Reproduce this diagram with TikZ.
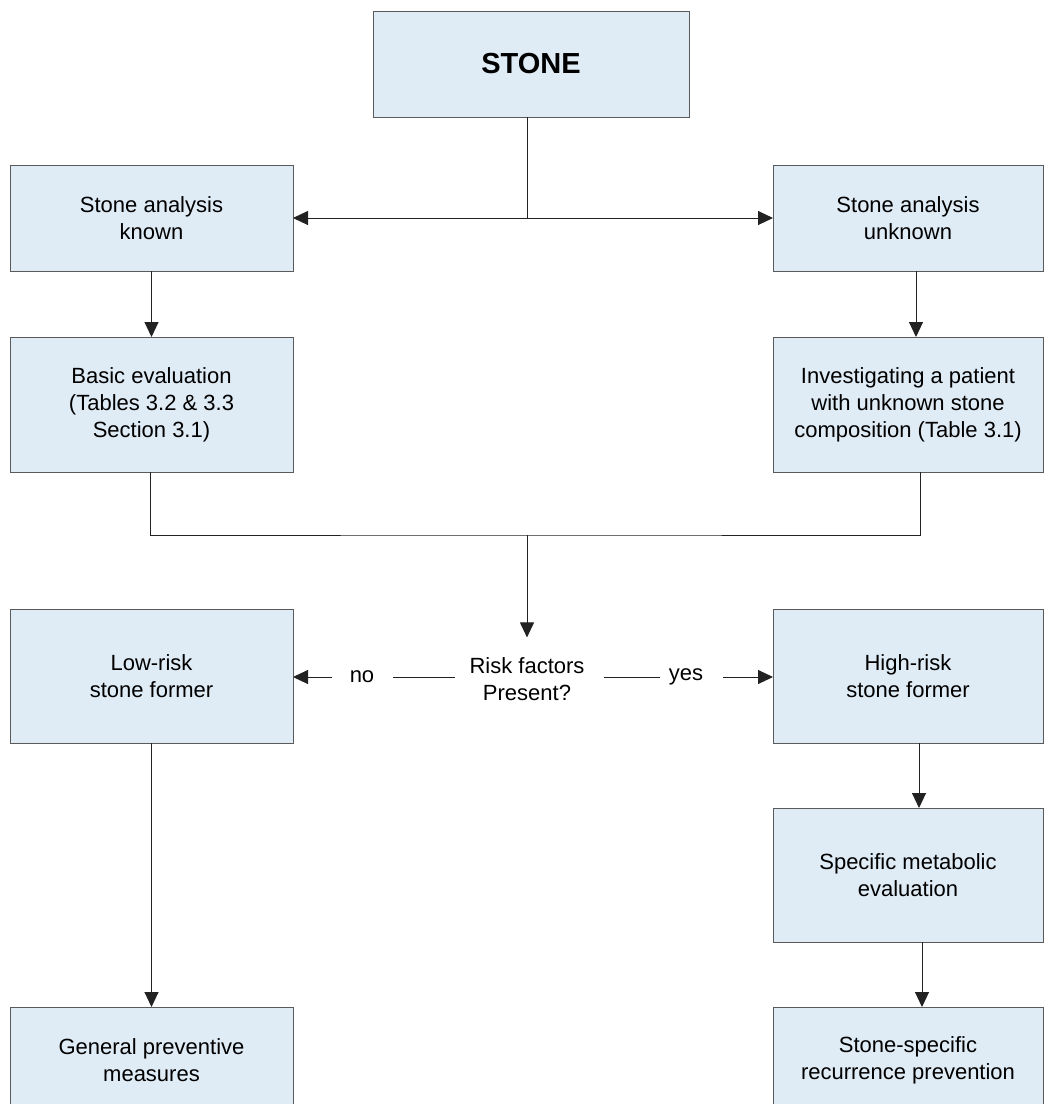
\documentclass[tikz,border=0pt]{standalone}
\usepackage{fontspec}
\setmainfont{Liberation Sans}
\usetikzlibrary{arrows.meta,calc}
\definecolor{boxblue}{HTML}{DFEBF5}
\definecolor{boxline}{HTML}{5A5A5A}
\definecolor{conn}{HTML}{222222}
\tikzset{
  box/.style={draw=boxline, fill=boxblue, line width=1pt, align=center,
    inner sep=0pt, outer sep=0pt, anchor=center,
    font=\fontsize{22}{27}\selectfont},
  lbox/.style={box, minimum width=283pt},
  rbox/.style={box, minimum width=270pt},
  lbl/.style={inner sep=0pt, outer sep=0pt, align=center,
    font=\fontsize{22}{27}\selectfont},
  conline/.style={draw=conn, line width=1pt},
  arr/.style={conline, -{Triangle[length=15pt,width=14pt]}}
}
\begin{document}
\begin{tikzpicture}[x=1pt,y=-1pt]
\useasboundingbox (0,0) rectangle (1044,1104);
\clip (0,0) rectangle (1044,1104);
\fill[white] (0,0) rectangle (1044,1104);

% nodes
\node[box, minimum width=316pt, minimum height=106pt,
      font=\fontsize{29}{34}\selectfont\bfseries] (stone) at (531,64) {STONE};
\node[lbox, minimum height=106pt] (known) at (151.5,218) {Stone analysis\\known};
\node[rbox, minimum height=106pt] (unknown) at (908,218) {Stone analysis\\unknown};
\node[lbox, minimum height=135pt] (basic) at (151.5,404.5) {Basic evaluation\\(Tables 3.2 \& 3.3\\Section 3.1)};
\node[rbox, minimum height=135pt] (invest) at (908,404.5) {Investigating a patient\\with unknown stone\\composition (Table 3.1)};
\node[lbox, minimum height=134pt] (low) at (151.5,676) {Low-risk\\stone former};
\node[rbox, minimum height=134pt] (high) at (908,676) {High-risk\\stone former};
\node[rbox, minimum height=134pt] (specific) at (908,875) {Specific metabolic\\evaluation};
\node[lbox, minimum height=106pt] (general) at (151.5,1060) {General preventive\\measures};
\node[rbox, minimum height=106pt] (stonespec) at (908,1060) {Stone-specific\\recurrence prevention};

\node[lbl] (risk) at (527,679) {Risk factors\\Present?};
\node[lbl] (no) at (362,677) {no};
\node[lbl] (yes) at (686,677) {yes};

\coordinate (split) at (527,218);
\coordinate (merge) at (527,535);
\coordinate (mid) at (527,677);

% connectors
\draw[conline] (stone.south -| split) -- (split);
\draw[arr] (split) -- (known.east);
\draw[arr] (split) -- (unknown.west);

\draw[arr] (known.south) -- (basic.north);
\draw[arr] ([xshift=8pt]unknown.south) -- ([xshift=8pt]invest.north);

\draw[conline] ([xshift=-1.5pt]basic.south) |- (merge) -| ([xshift=12pt]invest.south);
\draw[arr] (merge) -- ([yshift=20pt]risk.north -| merge);

\draw[conline] ([xshift=-15pt]risk.west |- mid) -- ([xshift=19pt]no.east |- mid);
\draw[arr] ([xshift=-18pt]no.west |- mid) -- (low.east |- mid);
\draw[conline] ([xshift=20pt]risk.east |- mid) -- ([xshift=-9pt]yes.west |- mid);
\draw[arr] ([xshift=20pt]yes.east |- mid) -- (high.west |- mid);

\draw[arr] (low.south) -- (general.north);
\draw[arr] ([xshift=11pt]high.south) -- ([xshift=11pt]specific.north);
\draw[arr] ([xshift=14pt]specific.south) -- ([xshift=14pt]stonespec.north);
\end{tikzpicture}
\end{document}
